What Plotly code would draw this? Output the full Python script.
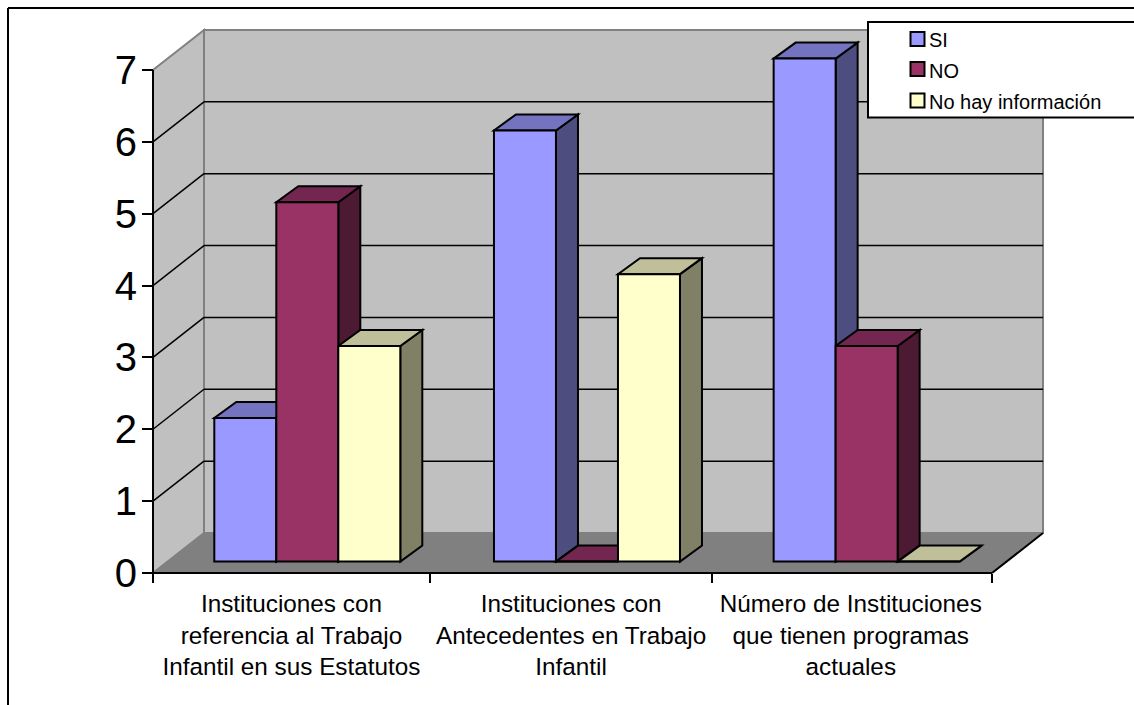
import plotly.graph_objects as go

# ---- data ----
categories = [
    "Instituciones con<br>referencia al Trabajo<br>Infantil en sus Estatutos",
    "Instituciones con<br>Antecedentes en Trabajo<br>Infantil",
    "Número de Instituciones<br>que tienen programas<br>actuales",
]
series_names = ["SI", "NO", "No hay información"]
si_values = [2, 6, 7]
no_values = [5, 0, 3]
nohay_values = [3, 4, 0]
value_ticks = [0, 1, 2, 3, 4, 5, 6, 7]
category_edges = [0, 0.99, 2, 3]

front_colors = ["#9999FF", "#993366", "#FFFFCC"]
side_colors = ["#4D4D80", "#4D1A33", "#808066"]
top_colors = ["#7373BF", "#732650", "#BFBF99"]

W, H = 1134, 705
PX_X = 279.67   # pixels per category
PX_Y = 71.86    # pixels per value unit
X0, Y0 = 153, 573          # pixel of the axes origin
L, R, T, B = 140, 1060, 10, 585   # plot area in pixels

def dx(p): return p / PX_X
def dy(p): return p / PX_Y
def fx(p): return (p - L) / (R - L)
def fy(p): return (B - p) / (B - T)

WALL_X, WALL_Y = dx(51), dy(40)
GAP_X, BAR_W = dx(61.3), dx(62)
BASE = dy(11.4)
DEPTH_X, DEPTH_Y = dx(22), dy(16)
n_cat = len(categories)
tmax = max(value_ticks)

shapes = []

def poly(points, fill, line="#000000", width=2):
    path = "M" + " L".join(f"{a:.5f},{b:.5f}" for a, b in points) + " Z"
    shapes.append(dict(type="path", path=path, xref="x", yref="y", layer="below",
                       fillcolor=fill, line=dict(color=line, width=width)))

def seg(x0, y0, x1, y1, color="#000000", width=1.5):
    shapes.append(dict(type="line", x0=x0, y0=y0, x1=x1, y1=y1, xref="x", yref="y",
                       layer="below", line=dict(color=color, width=width)))

GREY = "#808080"
# back wall, left wall, floor
poly([(WALL_X, WALL_Y), (n_cat + WALL_X, WALL_Y), (n_cat + WALL_X, tmax + WALL_Y), (WALL_X, tmax + WALL_Y)],
     "#C0C0C0", GREY, 2)
poly([(0, 0), (WALL_X, WALL_Y), (WALL_X, tmax + WALL_Y), (0, tmax)], "#C0C0C0", GREY, 2)
poly([(0, 0), (n_cat, 0), (n_cat + WALL_X, WALL_Y), (WALL_X, WALL_Y)], GREY, GREY, 1)
# gridlines
for v in value_ticks[1:-1]:
    seg(WALL_X, v + WALL_Y, n_cat + WALL_X, v + WALL_Y)
    seg(0, v, WALL_X, v + WALL_Y)
# axis lines
seg(0, 0, 0, tmax, width=2)
seg(0, 0, n_cat, 0, width=2)
seg(n_cat, 0, n_cat + WALL_X, WALL_Y, width=2)

# bars: depth faces sit below the bar fronts, so later fronts hide them
all_values = [si_values, no_values, nohay_values]
traces = []
for j, vals in enumerate(all_values):
    xs = [i + GAP_X + (j + 0.5) * BAR_W for i in range(n_cat)]
    for x, v in zip(xs, vals):
        a, b = x - BAR_W / 2, x + BAR_W / 2
        top = BASE + v
        poly([(b, BASE), (b + DEPTH_X, BASE + DEPTH_Y), (b + DEPTH_X, top + DEPTH_Y), (b, top)], side_colors[j])
        poly([(a, top), (b, top), (b + DEPTH_X, top + DEPTH_Y), (a + DEPTH_X, top + DEPTH_Y)], top_colors[j])
    traces.append(go.Bar(name=series_names[j], x=xs, y=vals, base=BASE, width=BAR_W,
                         marker=dict(color=front_colors[j], line=dict(color="#000000", width=2)),
                         showlegend=False))

# outer frame (open at right and bottom)
for x0, y0, x1, y1 in [(8, 8, W, 8), (8, 8, 8, H)]:
    shapes.append(dict(type="line", xref="paper", yref="paper", x0=fx(x0), y0=fy(y0), x1=fx(x1), y1=fy(y1),
                       layer="above", line=dict(color="#000000", width=2)))
# legend box and swatches
shapes.append(dict(type="rect", xref="paper", yref="paper", x0=fx(868), x1=fx(W + 5), y0=fy(22), y1=fy(117.5),
                   layer="above", fillcolor="#FFFFFF", line=dict(color="#000000", width=2)))
legend_rows = [39, 69, 100.5]
annotations = []
for name, c, yc in zip(series_names, front_colors, legend_rows):
    shapes.append(dict(type="rect", xref="paper", yref="paper", x0=fx(910.5), x1=fx(924.5), y0=fy(yc - 7), y1=fy(yc + 7),
                       layer="above", fillcolor=c, line=dict(color="#000000", width=2)))
    annotations.append(dict(xref="paper", yref="paper", x=fx(927), y=fy(yc + 1.5), text=name, showarrow=False,
                            xanchor="left", yanchor="middle",
                            font=dict(family="Liberation Sans", size=20, color="#000000")))

fig = go.Figure(traces)
fig.update_layout(
    width=W, height=H, barmode="overlay", showlegend=False, autosize=False,
    margin=dict(l=L, r=W - R, t=T, b=H - B, pad=0, autoexpand=False),
    paper_bgcolor="#FFFFFF", plot_bgcolor="rgba(0,0,0,0)",
    font=dict(family="Liberation Sans", color="#000000"),
    shapes=shapes, annotations=annotations,
    xaxis=dict(
        range=[dx(L - X0), dx(R - X0)], anchor="free", position=(B - Y0) / (B - T),
        tickmode="array", tickvals=[i + 0.495 for i in range(n_cat)], ticktext=categories,
        ticks="", showgrid=False, zeroline=False, showline=False,
        tickfont=dict(size=24.3), tickangle=0, ticklabelstandoff=14,
        minor=dict(tickmode="array", tickvals=category_edges, ticks="outside",
                   ticklen=9, tickwidth=2, tickcolor="#000000", showgrid=False),
    ),
    yaxis=dict(
        range=[dy(Y0 - B), dy(Y0 - T)], anchor="free", position=(X0 - L) / (R - L),
        tickmode="array", tickvals=value_ticks, ticks="outside", ticklen=11, tickwidth=2,
        tickcolor="#000000", showgrid=False, zeroline=False, showline=False,
        tickfont=dict(size=40), ticklabelstandoff=-3,
    ),
)
fig.write_html("out.html", config=dict(displayModeBar=False),
               post_script="document.body.style.margin='0';document.body.style.overflow='hidden';")
